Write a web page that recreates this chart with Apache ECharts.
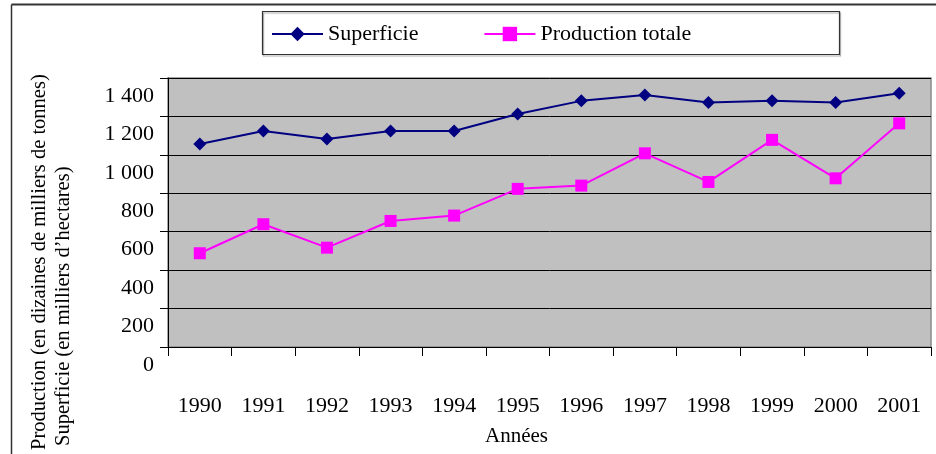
<!DOCTYPE html>
<html>
<head>
<meta charset="utf-8">
<script src="https://cdn.jsdelivr.net/npm/echarts@6/dist/echarts.min.js"></script>
<style>
html,body{margin:0;padding:0;background:#fff;}
#chart{width:936px;height:454px;}
</style>
</head>
<body>
<div id="chart"></div>
<script>
var years = ['1990','1991','1992','1993','1994','1995','1996','1997','1998','1999','2000','2001'];
var superficie = [1057, 1124, 1083, 1124, 1124, 1213, 1281, 1312, 1272, 1281, 1272, 1321];
var production = [488, 639, 517, 656, 684, 823, 840, 1008, 859, 1078, 878, 1164];
var yTickLabels = ['0','200','400','600','800','1 000','1 200','1 400'];
var seriesNames = ['Superficie', 'Production totale'];
var yTitle1 = 'Production (en dizaines de milliers de tonnes)';
var yTitle2 = 'Superficie (en milliers d\u2019hectares)';
var xTitle = 'Années';

var FONT = '"Liberation Serif", "Times New Roman", serif';
var chart = echarts.init(document.getElementById('chart'), null, {renderer: 'canvas'});
chart.setOption({
  backgroundColor: '#ffffff',
  animation: false,
  textStyle: {fontFamily: FONT, color: '#000'},
  grid: {
    left: 168, right: 5, top: 78, bottom: 107,
    show: true, backgroundColor: '#c0c0c0', borderColor: '#8a8a8a', borderWidth: 1.5
  },
  legend: {
    left: 266, top: 18,
    itemWidth: 51, itemHeight: 18, itemGap: 65,
    textStyle: {fontFamily: FONT, fontSize: 22, color: '#000'},
    data: seriesNames
  },
  xAxis: {
    type: 'category',
    data: years,
    boundaryGap: true,
    axisLine: {show: true, lineStyle: {color: '#000', width: 1}},
    axisTick: {show: true, length: 9, inside: false, lineStyle: {color: '#000'}},
    axisLabel: {fontFamily: FONT, fontSize: 22, color: '#000', margin: 48, interval: 0},
    splitLine: {show: false},
    name: xTitle,
    nameLocation: 'middle',
    nameGap: 79,
    nameTextStyle: {fontFamily: FONT, fontSize: 21, color: '#000', padding: [0, 66, 0, 0]}
  },
  yAxis: {
    type: 'value',
    min: 0, max: 1400, interval: 200,
    axisLine: {show: true, lineStyle: {color: '#000', width: 1}},
    axisTick: {show: true, length: 8, inside: false, lineStyle: {color: '#000'}},
    axisLabel: {
      fontFamily: FONT, fontSize: 22, color: '#000', margin: 14,
      verticalAlign: 'top', lineHeight: 36,
      formatter: function (v) { return yTickLabels[Math.round(v / 200)]; }
    },
    splitLine: {show: true, lineStyle: {color: '#000', width: 1}}
  },
  graphic: [
    {type: 'line', shape: {x1: 11.5, y1: 4.5, x2: 936, y2: 4.5}, style: {stroke: '#333', lineWidth: 2}},
    {type: 'line', shape: {x1: 11.5, y1: 4.5, x2: 11.5, y2: 454}, style: {stroke: '#333', lineWidth: 1.5}},
    {type: 'rect', shape: {x: 262.5, y: 11.5, width: 577, height: 43}, style: {fill: 'rgba(0,0,0,0)', stroke: '#333', lineWidth: 1.2, shadowColor: 'rgba(0,0,0,0.35)', shadowOffsetX: 1, shadowOffsetY: 1.5, shadowBlur: 1}, z: -1},
    {type: 'text', x: 40, y: 450, rotation: Math.PI / 2, style: {text: yTitle1, font: '20.5px ' + FONT, fill: '#000', align: 'left', verticalAlign: 'middle'}},
    {type: 'text', x: 64, y: 446, rotation: Math.PI / 2, style: {text: yTitle2, font: '20.5px ' + FONT, fill: '#000', align: 'left', verticalAlign: 'middle'}}
  ],
  series: [
    {
      name: seriesNames[0], type: 'line', data: superficie,
      symbol: 'diamond', symbolSize: 13,
      lineStyle: {color: '#000080', width: 2},
      itemStyle: {color: '#000080'},
      z: 3
    },
    {
      name: seriesNames[1], type: 'line', data: production,
      symbol: 'rect', symbolSize: 12,
      lineStyle: {color: '#ff00ff', width: 2},
      itemStyle: {color: '#ff00ff'},
      z: 3
    }
  ]
});
</script>
</body>
</html>
